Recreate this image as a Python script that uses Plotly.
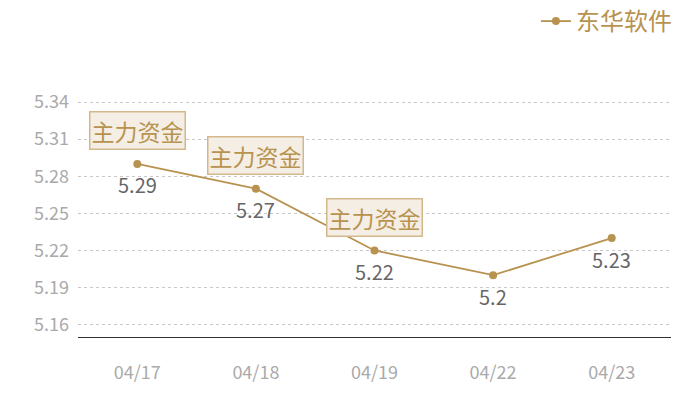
import plotly.graph_objects as go

dates = ["04/17", "04/18", "04/19", "04/22", "04/23"]
prices = [5.29, 5.27, 5.22, 5.2, 5.23]
flag_dates = ["04/17", "04/18", "04/19"]
flag_text = "主力资金"
y_ticks = [5.16, 5.19, 5.22, 5.25, 5.28, 5.31, 5.34]

gold = "#b8924f"
font_cjk = "Noto Sans CJK SC"

fig = go.Figure()
fig.add_trace(go.Scatter(
    x=dates, y=prices, name="东华软件",
    mode="lines+markers",
    line=dict(color=gold, width=1.8),
    marker=dict(color=gold, size=8),
))

annotations = []
for d, p in zip(dates, prices):
    annotations.append(dict(
        x=d, y=p, xref="x", yref="y", text=f"{p:g}",
        showarrow=False, yshift=-21,
        font=dict(family=font_cjk, size=20, color="#666666"),
    ))
for d in flag_dates:
    p = prices[dates.index(d)]
    annotations.append(dict(
        x=d, y=p, xref="x", yref="y", text=flag_text,
        showarrow=False, yshift=33,
        font=dict(family=font_cjk, size=23, color=gold),
        bgcolor="#f4eee4", bordercolor="#d3b88c", borderwidth=1.5,
        borderpad=1,
    ))

fig.update_layout(
    width=700, height=400,
    margin=dict(l=78, r=29, t=65, b=63, autoexpand=False),
    paper_bgcolor="white", plot_bgcolor="white",
    font=dict(family=font_cjk),
    showlegend=True,
    legend=dict(
        x=1.01, xanchor="right", y=1.16, yanchor="middle",
        font=dict(family=font_cjk, size=24, color=gold),
        bgcolor="rgba(0,0,0,0)",
    ),
    xaxis=dict(
        type="category", range=[-0.5, 4.5], showgrid=False,
        showline=True, linecolor="#333333", linewidth=1.2,
        ticks="", tickfont=dict(size=18, color="#aaaaaa"),
        ticklabelstandoff=19,
    ),
    yaxis=dict(
        range=[5.15, 5.37], tickvals=y_ticks,
        ticktext=[f"{v:.2f}" for v in y_ticks],
        showgrid=True, gridcolor="#c8c8c8", griddash="dot", gridwidth=1,
        zeroline=False, showline=False, ticks="",
        tickfont=dict(size=18, color="#aaaaaa"),
        ticklabelstandoff=8,
    ),
    annotations=annotations,
)

# drop the browser's default 8px body margin so the figure sits at 0,0
fig.write_html(
    "out.html",
    config={"displayModeBar": False},
    post_script="document.body.style.margin = '0';",
)
